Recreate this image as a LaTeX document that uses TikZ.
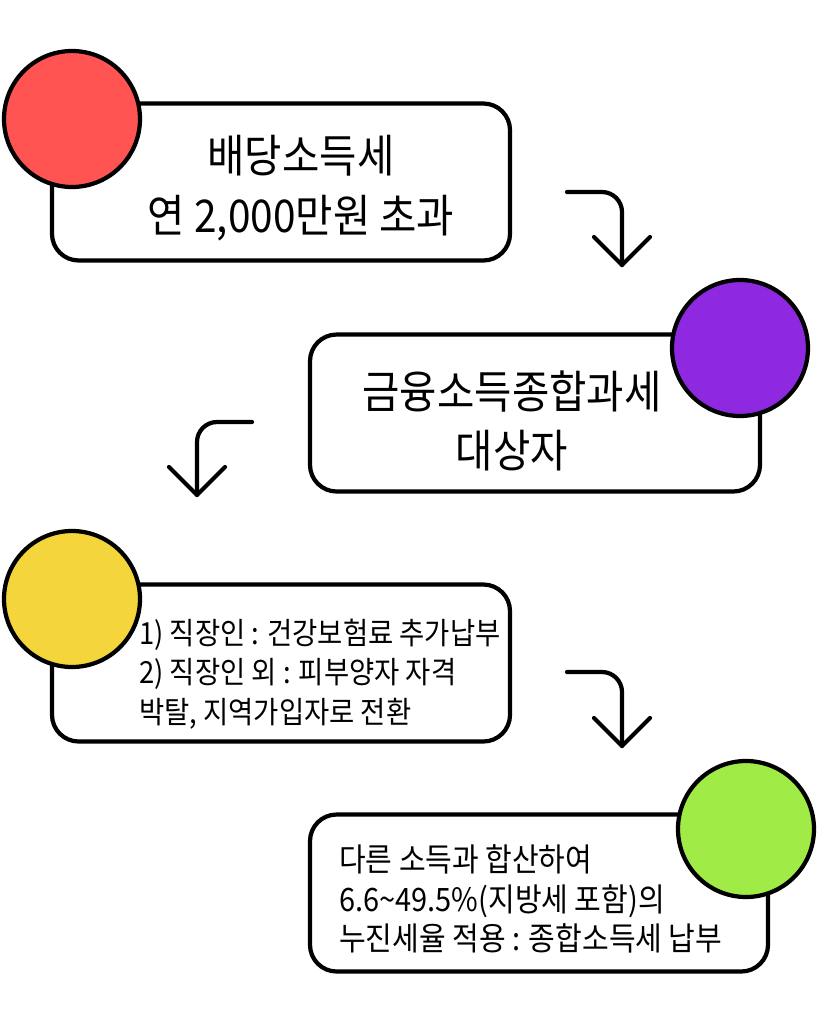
\documentclass[tikz,border=0pt]{standalone}
\usepackage{fontspec}
\setmainfont{Noto Sans CJK KR}[FakeStretch=0.9]
\usepackage{xcolor}
\usepackage{tikz}
\definecolor{dotred}{RGB}{255,84,82}
\definecolor{dotpurple}{RGB}{142,40,225}
\definecolor{dotyellow}{RGB}{245,213,60}
\definecolor{dotgreen}{RGB}{160,235,70}
\tikzset{every picture/.style={x=0.03cm,y=-0.03cm},
  box/.style={rectangle, rounded corners=0.8cm, draw=black, line width=3.6pt, fill=white,
    minimum width=13.74cm, minimum height=4.71cm},
  dot/.style={circle, draw=black, line width=3.6pt, minimum size=4.08cm, inner sep=0pt},
  big/.style={align=center, inner sep=0pt, font=\fontsize{38.5}{51}\selectfont},
  small/.style={align=left, anchor=west, inner sep=0pt, font=\fontsize{26}{34}\selectfont},
  turn/.style={line width=3.6pt, line cap=round, line join=round, rounded corners=0.6cm}}

\begin{document}
\begin{tikzpicture}
        \useasboundingbox (0,0) rectangle (819,1024);

        \node[box] (b1) at (281, 182) {};
        \node[box, minimum width=13.5cm] (b2) at (535, 413) {};
        \node[box] (b3) at (281, 663) {};
        \node[box] (b4) at (539, 893) {};

        \node[big] (t1) at (301, 188) {배당소득세\\연 2,000만원 초과};
        \node[big] (t2) at (512, 421) {금융소득종합과세\\대상자};
        \node[small] (t3) at (139, 674) {1) 직장인 : 건강보험료 추가납부\\2) 직장인 외 : 피부양자 자격\\박탈, 지역가입자로 전환};
        \node[small, font=\fontsize{27.5}{34}\selectfont] (t4) at (339, 899) {다른 소득과 합산하여\\6.6\textasciitilde 49.5\%(지방세 포함)의\\누진세율 적용 : 종합소득세 납부};

        \node[dot, fill=dotred] (c1) at (72, 119) {};
        \node[dot, fill=dotpurple] (c2) at (740, 348) {};
        \node[dot, fill=dotyellow] (c3) at (72, 599) {};
        \node[dot, fill=dotgreen] (c4) at (746, 829) {};

        \foreach \sx/\sy/\cx/\ty [count=\i] in {
          567/192/622/265,
          252/422/197/495,
          567/672/622/746}
        {
          \coordinate (a\i) at (\sx, \sy);
          \coordinate (h\i) at (\cx, \ty);
          \draw[turn] (a\i) -| (h\i);
          \draw[turn, rounded corners=0pt] (h\i) ++(-28,-28) -- (h\i) -- ++(28,-28);
        }
      \end{tikzpicture}
\end{document}
